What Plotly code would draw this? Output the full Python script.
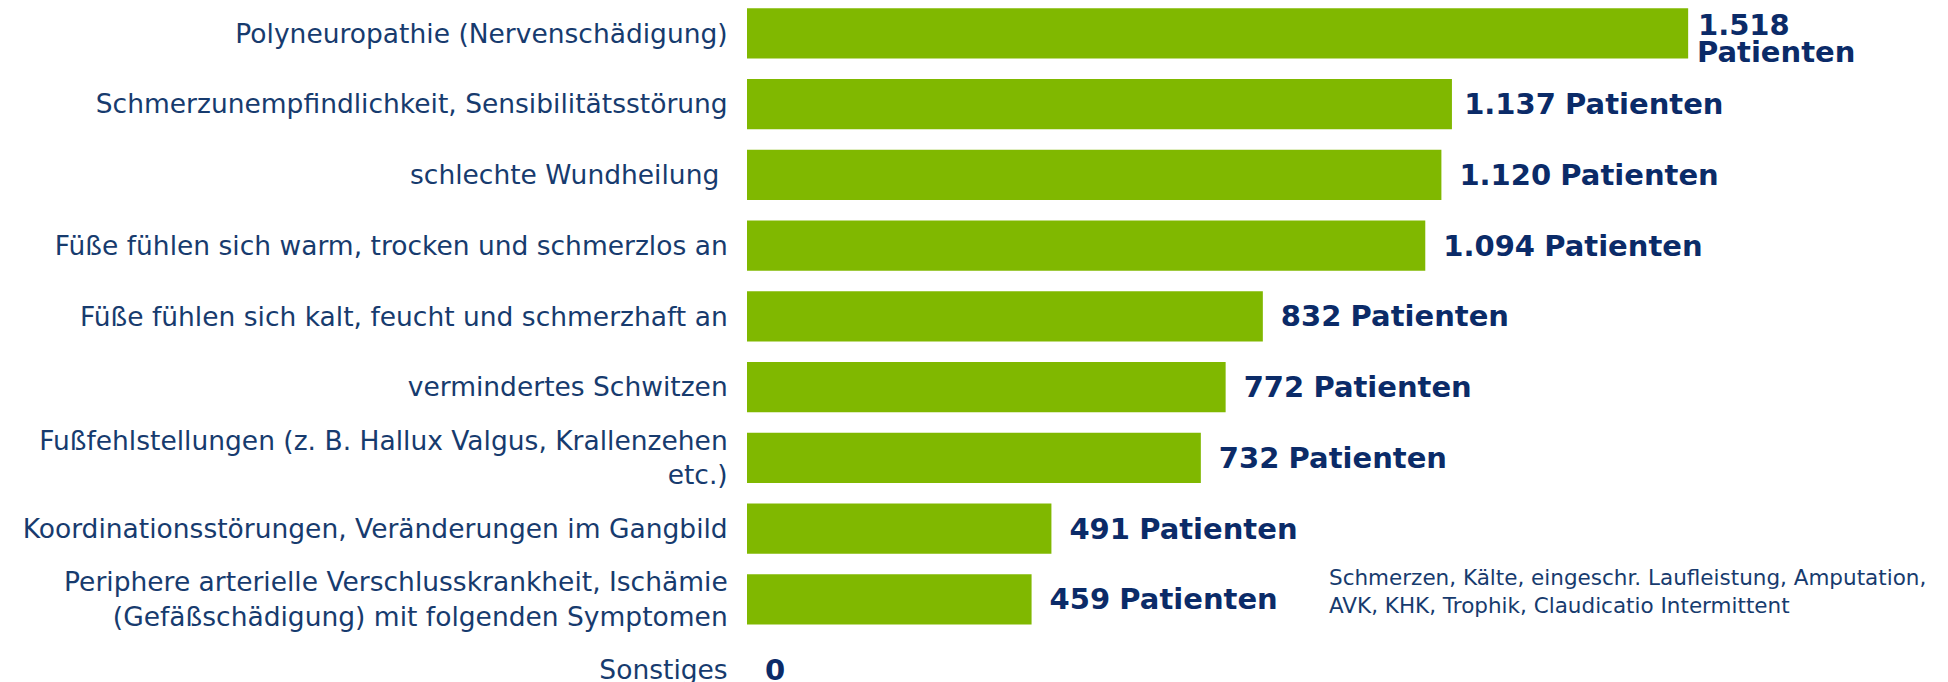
import plotly.graph_objects as go

categories = [
    "Polyneuropathie (Nervenschädigung)",
    "Schmerzunempfindlichkeit, Sensibilitätsstörung",
    "schlechte Wundheilung\u00a0",
    "Füße fühlen sich warm, trocken und schmerzlos an",
    "Füße fühlen sich kalt, feucht und schmerzhaft an",
    "vermindertes Schwitzen",
    "Fußfehlstellungen (z. B. Hallux Valgus, Krallenzehen<br>etc.)",
    "Koordinationsstörungen, Veränderungen im Gangbild",
    "Periphere arterielle Verschlusskrankheit, Ischämie<br>(Gefäßschädigung) mit folgenden Symptomen",
    "Sonstiges",
]
values = [1518, 1137, 1120, 1094, 832, 772, 732, 491, 459, 0]
value_labels = ["1.518", "1.137", "1.120", "1.094", "832", "772", "732", "491", "459", "0"]
unit_labels = ["Patienten"] * 9 + [""]
wrap_label = [True] + [False] * 9
note_text = "Schmerzen, Kälte, eingeschr. Laufleistung, Amputation,<br>AVK, KHK, Trophik, Claudicatio Intermittent"
note_category = categories[8]
note_x = 936

# styling: leading space between bar end and its label
NB, TH = "\u00a0", "\u2009"
label_pad = ["", NB, NB + TH, NB + TH, NB + TH, NB + TH, NB + TH, NB + TH, NB + TH, NB + TH]

GREEN = "#80b800"
NAVY = "#173b6e"
NAVY_DARK = "#0b2b68"
VAL_FONT = dict(family="DejaVu Sans", size=29, color=NAVY_DARK)

texts = []
for v, u, w, p in zip(value_labels, unit_labels, wrap_label, label_pad):
    num = f"<b>{v}</b>"
    if w:
        texts.append("")  # two-line label drawn with annotations below
    elif not u:
        texts.append(p + num)
    else:
        texts.append(p + num + " " + f"<b>{u}</b>")

fig = go.Figure(
    go.Bar(
        x=values,
        y=categories,
        orientation="h",
        marker=dict(color=GREEN, line=dict(width=0)),
        width=0.71,
        text=texts,
        textposition="outside",
        textfont=VAL_FONT,
        constraintext="none",
        cliponaxis=False,
        hoverinfo="skip",
    )
)

# two-line value label (tight line spacing as in the reference)
for i, w in enumerate(wrap_label):
    if w:
        fig.add_annotation(x=values[i], y=categories[i], xref="x", yref="y",
                           text=f"<b>{value_labels[i]}</b>", showarrow=False,
                           xanchor="left", yanchor="middle", xshift=8, yshift=8.5,
                           font=VAL_FONT)
        fig.add_annotation(x=values[i], y=categories[i], xref="x", yref="y",
                           text=f"<b>{unit_labels[i]}</b>", showarrow=False,
                           xanchor="left", yanchor="middle", xshift=7, yshift=-19,
                           font=VAL_FONT)

fig.add_annotation(
    x=note_x, y=note_category, xref="x", yref="y",
    text=note_text, showarrow=False, xanchor="left", yanchor="middle",
    align="left", font=dict(family="DejaVu Sans", size=21.5, color=NAVY), yshift=8,
)

fig.update_layout(
    width=1948, height=682,
    margin=dict(l=739, r=0, t=0, b=0, autoexpand=False),
    paper_bgcolor="white", plot_bgcolor="white",
    showlegend=False,
    xaxis=dict(range=[0, 1950], visible=False, showgrid=False, zeroline=False, automargin=False),
    yaxis=dict(
        categoryorder="array", categoryarray=categories,
        range=[9.282, -0.358], automargin=False,
        showgrid=False, zeroline=False, showline=False,
        ticks="outside", ticklen=13, tickcolor="rgba(0,0,0,0)",
        tickfont=dict(family="DejaVu Sans", size=26.5, color=NAVY),
    ),
)

fig.write_html("out.html")
